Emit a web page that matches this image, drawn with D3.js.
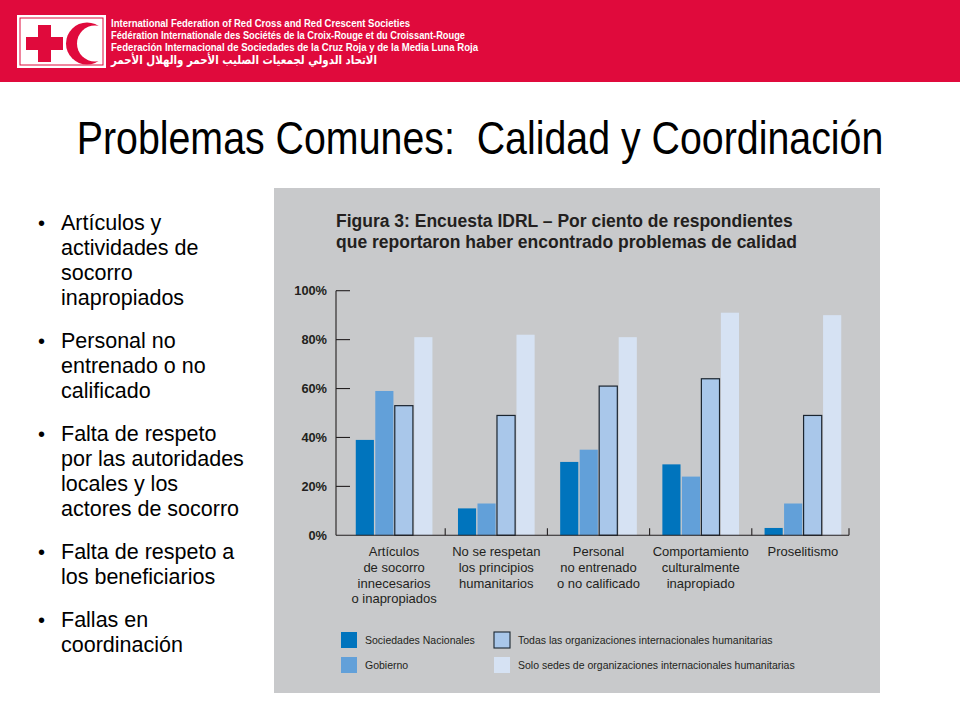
<html>
<head>
<meta charset="utf-8">
<style>
  body { margin: 0; background: #fff; }
  svg { display: block; font-family: "Liberation Sans", Arial, Helvetica, sans-serif; }
</style>
</head>
<body>
<svg width="960" height="720"></svg>
<script src="https://d3js.org/d3.v7.min.js"></script>
<script>
// chart data
const categories = ["art", "princ", "pers", "comp", "pros"];
const categoryLabels = [
  ["Artículos", "de socorro", "innecesarios", "o inapropiados"],
  ["No se respetan", "los principios", "humanitarios"],
  ["Personal", "no entrenado", "o no calificado"],
  ["Comportamiento", "culturalmente", "inapropiado"],
  ["Proselitismo"]
];
const seriesNames = [
  "Sociedades Nacionales",
  "Gobierno",
  "Todas las organizaciones internacionales humanitarias",
  "Solo sedes de organizaciones internacionales humanitarias"
];
const nacionales = [39, 11, 30, 29, 3];
const gobierno   = [59, 13, 35, 24, 13];
const todas      = [53, 49, 61, 64, 49];
const sedes      = [81, 82, 81, 91, 90];
const yTicks = [0, 20, 40, 60, 80, 100];

const headerLines = [
  "International Federation of Red Cross and Red Crescent Societies",
  "Fédération Internationale des Sociétés de la Croix-Rouge et du Croissant-Rouge",
  "Federación Internacional de Sociedades de la Cruz Roja y de la Media Luna Roja",
  "الاتحاد الدولي لجمعيات الصليب الأحمر والهلال الأحمر"
];
const bullets = [
  ["Artículos y", "actividades de", "socorro", "inapropiados"],
  ["Personal no", "entrenado o no", "calificado"],
  ["Falta de respeto", "por las autoridades", "locales y los", "actores de socorro"],
  ["Falta de respeto a", "los beneficiarios"],
  ["Fallas en", "coordinación"]
];

const colors = ["#0074bd", "#62a0d9", "#a9c7ea", "#d6e2f3"];
const values = [nacionales, gobierno, todas, sedes];

let svg = d3.select("svg");

// ---- red header with logo
svg.append("rect").attr("x", 0).attr("y", 0).attr("width", 960).attr("height", 82).style("fill", "#e00a3c");
svg.append("rect").attr("x", 17).attr("y", 15).attr("width", 89).attr("height", 53).style("fill", "#fff");
svg.append("rect").attr("x", 20).attr("y", 18).attr("width", 83).attr("height", 47)
  .style("fill", "none").style("stroke", "#e00a3c").style("stroke-width", 1);
svg.append("rect").attr("x", 26).attr("y", 37).attr("width", 37).attr("height", 13).style("fill", "#e00a3c");
svg.append("rect").attr("x", 38).attr("y", 25).attr("width", 13).attr("height", 37).style("fill", "#e00a3c");
let mask = svg.append("defs").append("mask").attr("id", "cres");
mask.append("rect").attr("x", 0).attr("y", 0).attr("width", 120).attr("height", 90).style("fill", "#fff");
mask.append("circle").attr("cx", 95).attr("cy", 43.5).attr("r", 18).style("fill", "#000");
svg.append("circle").attr("cx", 87).attr("cy", 43.5).attr("r", 21)
  .style("fill", "#e00a3c").attr("mask", "url(#cres)");

let headerEnds = [410, 465, 478, 377];
let headerY = [27, 39, 51, 64];
headerLines.forEach((t, i) => {
  svg.append("text")
    .attr("x", 111).attr("y", headerY[i])
    .attr("textLength", headerEnds[i] - 111)
    .attr("lengthAdjust", "spacingAndGlyphs")
    .style("font-size", i == 3 ? "12px" : "10px")
    .style("font-weight", "bold")
    .style("font-family", i == 3 ? "'DejaVu Sans', sans-serif" : null)
    .style("fill", "#fff")
    .text(t);
});

// ---- slide title (condensed with a horizontal scale, no narrow face installed)
svg.append("text")
  .attr("transform", "translate(480,154) scale(0.837,1)")
  .attr("text-anchor", "middle")
  .style("font-size", "47px")
  .style("fill", "#000")
  .style("white-space", "pre")
  .text("Problemas Comunes:  Calidad y Coordinación");

// ---- bullet list
let by = 230;
bullets.forEach(lines => {
  svg.append("text").attr("x", 38).attr("y", by).style("font-size", "20px").text("•");
  lines.forEach((l, j) => {
    svg.append("text")
      .attr("x", 61).attr("y", by + j * 25)
      .style("font-size", "21.5px")
      .style("fill", "#000")
      .text(l);
  });
  by += lines.length * 25 + 18;
});

// ---- chart panel
svg.append("rect").attr("x", 274).attr("y", 188).attr("width", 606).attr("height", 505).style("fill", "#c8c9cb");

svg.append("text").attr("x", 336).attr("y", 227)
  .style("font-size", "17.5px").style("font-weight", "bold").style("fill", "#231f20")
  .text("Figura 3: Encuesta IDRL – Por ciento de respondientes");
svg.append("text").attr("x", 336).attr("y", 248)
  .style("font-size", "17.5px").style("font-weight", "bold").style("fill", "#231f20")
  .text("que reportaron haber encontrado problemas de calidad");

let x = d3.scaleBand()
  .domain(categories)
  .range([343, 854])
  .paddingInner(0.25)
  .paddingOuter(0.125);

let xInner = d3.scaleBand()
  .domain(d3.range(seriesNames.length))
  .range([0, x.bandwidth()])
  .paddingInner(0.07);

let y = d3.scaleLinear()
  .domain([0, 100])
  .range([535.3, 290.7]);

let axisX = 336;
let axisEnd = 849;

// bars
let groups = svg.append("g")
  .selectAll("g")
  .data(categories)
  .enter().append("g")
  .attr("transform", d => "translate(" + x(d) + ",0)");

groups.selectAll("rect")
  .data((d, i) => values.map((s, k) => ({ k: k, v: s[i] })))
  .enter().append("rect")
  .attr("x", d => xInner(d.k))
  .attr("width", xInner.bandwidth())
  .attr("y", d => y(d.v))
  .attr("height", d => y(0) - y(d.v))
  .style("fill", d => colors[d.k])
  .style("stroke", d => d.k == 2 ? "#1b2530" : "none")
  .style("stroke-width", 1.2);

// y axis
let ax = svg.append("g").style("stroke", "#231f20").style("stroke-width", 1.1);
ax.append("line").attr("x1", axisX).attr("x2", axisX).attr("y1", y(100)).attr("y2", y(0));
ax.append("line").attr("x1", axisX).attr("x2", axisEnd).attr("y1", y(0)).attr("y2", y(0));
ax.selectAll(".yt")
  .data(yTicks.filter(d => d > 0))
  .enter().append("line")
  .attr("x1", axisX).attr("x2", axisX + 14)
  .attr("y1", d => y(d)).attr("y2", d => y(d));

// band separators on the baseline
let step = x.step();
let seps = categories.slice(0, -1).map(c => x(c) + x.bandwidth() + step * x.paddingInner() / 2);
seps.push(axisEnd);
ax.selectAll(".xt")
  .data(seps)
  .enter().append("line")
  .attr("x1", d => d).attr("x2", d => d)
  .attr("y1", y(0)).attr("y2", y(0) - 7);

svg.append("g").selectAll("text")
  .data(yTicks)
  .enter().append("text")
  .attr("x", 327)
  .attr("y", d => y(d) + 4.5)
  .attr("text-anchor", "end")
  .style("font-size", "12.8px")
  .style("font-weight", "bold")
  .style("fill", "#231f20")
  .text(d => d + "%");

// category labels
categories.forEach((c, i) => {
  categoryLabels[i].forEach((l, j) => {
    svg.append("text")
      .attr("x", x(c) + x.bandwidth() / 2)
      .attr("y", 556 + j * 15.8)
      .attr("text-anchor", "middle")
      .style("font-size", "13px")
      .style("fill", "#231f20")
      .text(l);
  });
});

// legend
let legPos = [[341, 632], [341, 657], [494, 632], [494, 657]];
seriesNames.forEach((s, k) => {
  let p = legPos[k];
  svg.append("rect")
    .attr("x", p[0]).attr("y", p[1])
    .attr("width", 16).attr("height", 16)
    .style("fill", colors[k])
    .style("stroke", k == 2 ? "#1b2530" : "none")
    .style("stroke-width", 1.1);
  svg.append("text")
    .attr("x", p[0] + 24).attr("y", p[1] + 12)
    .style("font-size", "10.5px")
    .style("fill", "#231f20")
    .text(s);
});
</script>
</body>
</html>
